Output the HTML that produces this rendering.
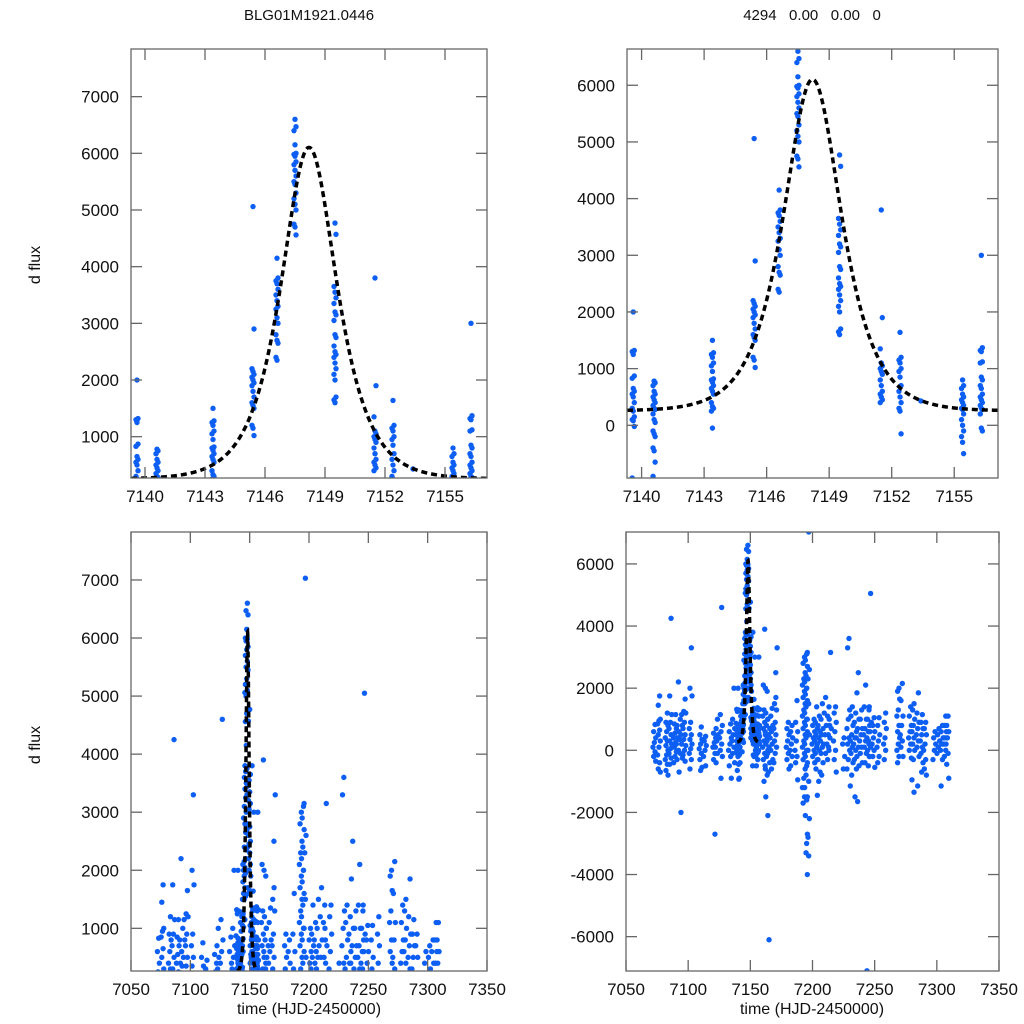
<!DOCTYPE html>
<html><head><meta charset="utf-8"><style>
html,body{margin:0;padding:0;background:#fff;overflow:hidden;width:1024px;height:1024px}
svg{display:block}
text{font-family:"Liberation Sans",sans-serif;fill:#111}
</style></head><body>
<svg id="chart" width="1024" height="1024" viewBox="0 0 1024 1024" xmlns="http://www.w3.org/2000/svg">
<text x="309" y="20" font-size="15" text-anchor="middle">BLG01M1921.0446</text>
<text x="812" y="20" font-size="15" text-anchor="middle" xml:space="preserve">4294   0.00   0.00   0</text>
<text transform="translate(40,265) rotate(-90)" font-size="16" text-anchor="middle">d flux</text>
<text transform="translate(40,745) rotate(-90)" font-size="16" text-anchor="middle">d flux</text>
<text x="309" y="1014" font-size="16" text-anchor="middle">time (HJD-2450000)</text>
<text x="812" y="1014" font-size="16" text-anchor="middle">time (HJD-2450000)</text>
</svg>
<script>
// event-region photometry: [time, values...]
const eventCols = [
 [7139.6, 2000,1320,1300,1250,870,830,650,600,550,500,400,300,250,150,100,80,-20,-930],
 [7140.6, 780,750,700,600,550,500,450,400,350,300,280,200,100,50,-100,-150,-200,-400,-450,-650,-900],
 [7143.4, 1500,1280,1250,1200,1100,1050,950,820,800,760,700,650,600,550,400,330,300,250,-50],
 [7145.4, 5060,2900,2200,2150,2100,2050,2000,1950,1900,1800,1700,1600,1550,1500,1200,1150,1020],
 [7146.6, 4150,3800,3750,3700,3600,3500,3400,3300,3250,3100,3000,2800,2700,2650,2400,2350],
 [7147.5, 6600,6470,6400,6150,6000,5980,5950,5850,5800,5700,5600,5500,5450,5300,5200,5100,5000,4750,4700,4560],
 [7149.5, 4770,4570,3650,3550,3450,3350,3200,3150,3050,2800,2750,2600,2500,2450,2400,2300,2200,2100,2000,1700,1650,1600],
 [7151.5, 3800,1900,1350,1100,1050,1000,950,900,800,700,600,550,500,450,400],
 [7152.4, 1640,1200,1150,1100,1000,950,850,700,600,500,400,300,250,-150],
 [7153.4, 430],
 [7155.4, 800,700,650,550,500,450,400,350,300,280,200,100,0,-100,-200,-300,-500],
 [7156.3, 3000,1370,1320,1300,1120,1100,850,800,700,650,550,500,450,400,350,300,280,200,-50,-100]
];
// full-season photometry outside the event
const seasonCols = [
 [7072.8, 830,600,400,250,100,-50,-200,-350],
 [7076.5, 1750,1450,1000,950,850,650,500,300,100,-150,-400,-600,-700],
 [7082.7, 1200,900,800,600,400,300,150,0,-150,-300,-450,-650,-800],
 [7085.7, 4250,1750,1150,900,700,500,300,200,50,-100,-250,-450],
 [7089.4, 1150,850,700,550,400,250,100,-50,-200,-400],
 [7091.6, 2200,800,600,400,200,0,-300,-700],
 [7094.2, 1150,1000,800,500,350,200,-100,-250,-2000],
 [7097.0, 1650,1250,1200,900,700,500,350,150,0,-150,-350],
 [7102.0, 3300,2000,1750,900,700,500,350,200,50,-100,-300,-600],
 [7110.0, 750,500,350,200,50,-100,-300,-550,-650],
 [7113.5, 450,300,150,0,-200,-500],
 [7121.0, -2700,550,400,250,100,-100,-300],
 [7123.0, 1000,700,500,300,100,-100,-400],
 [7126.4, 4600,1150,800,600,400,200,0,-200,-900],
 [7133.6, 850,600,400,200,0,-200,-500,-900],
 [7136.3, 2000,1000,700,500,300,100,-100,-400],
 [7153.0, 3000,1300,1100,800,600,400,200,0,-200,-500],
 [7161.0, 3900,2100,2000,1300,1100,900,700,500,300,100,-100,-300,-600,-1000],
 [7163.0, 1900,1200,1000,800,600,400,200,0,-200,-500,-800,-1500,-2100],
 [7164.5, -6100,1000,700,500,300,100,-100,-400,-700],
 [7167.0, 1350,1100,800,600,400,200,0,-300,-600],
 [7170.0, 1700,1500,1300,900,700,500,300,100,-100,-400],
 [7171.0, 3300,2500],
 [7180.0, 900,700,500,300,100,-100,-300,-600],
 [7183.0, 800,600,400,200,0,-200,-500],
 [7187.0, 1600,900,600,300,0,-200,-400,-950],
 [7193.0, 3000,2800,2500,2300,2100,1900,1700,1500,1300,1100,900,700,500,300,100,-100,-300,-600,-900,-1200,-1500,-1700],
 [7194.8, 3100,2900,2700,2400,2200,2000,1800,1600,1400,1200,1000,800,600,400,200,0,-200,-400,-800,-1200,-1600,-2100,-2700,-3300],
 [7196.4, 7030,3150,2600,2300,2000,1500,1000,500,0,-500,-1000,-1500,-2200,-2800,-3000,-3400,-4000],
 [7200.7, 1000,800,600,400,200,0,-200,-400],
 [7202.8, 1400,900,700,500,300,100,-100,-300,-600],
 [7205.0, 1100,800,600,400,200,0,-300,-700,-1000,-1450],
 [7207.4, 1500,1000,700,500,300,100,-100,-400,-800],
 [7210.0, 1700,1200,800,500,200,-100],
 [7212.7, 1400,1100,800,500,200,0,-300],
 [7214.0, 3150,1000,700,400,100],
 [7218.0, 1400,1200,900,600,300,0,-300,-700],
 [7224.8, 400,200,-200,-600],
 [7228.8, 3600,3300,1300,1000,700,400,200,0,-300,-600],
 [7231.5, 1400,1100,800,500,300,100,-100,-400,-800,-1150],
 [7234.2, 1200,900,600,400,200,0,-300,-600,-1500],
 [7236.3, 2500,1850,1000,700,400,100,-200,-500,-1650],
 [7239.0, 1300,1000,700,500,300,100,-100,-400],
 [7242.2, 2100,1400,1000,700,500,300,100,-100,-400],
 [7244.9, 1300,1000,800,600,400,200,0,-200,-500,-7100],
 [7246.2, 5050,1400,900,600,300,100,-200],
 [7249.0, 1050,800,600,400,200,0,-200,-550],
 [7253.0, 1050,800,500,300,100,-200,-400],
 [7258.3, 1200,900,700,400,200,0,-300],
 [7269.0, 2000,1900,1650,1300,1100,800,600,400,200,0,-200,-400],
 [7271.7, 2150,1600,1100,800,500,300,100,-200],
 [7278.4, 1400,1100,800,600,400,200,0,-250],
 [7281.1, 1500,1300,1000,800,600,400,200,0,-300,-950,-1350],
 [7284.6, 1850,1200,900,700,500,300,100,-200,-1150],
 [7287.8, 1150,900,700,500,300,100,-100,-400,-700],
 [7290.5, 900,700,500,200,0,-300,-600,-800],
 [7298.0, 600,400,200,0,-300],
 [7301.2, 700,500,300,100,-100],
 [7304.0, 800,600,400,200,0,-300,-1150],
 [7306.6, 1100,800,600,400,200,0,-200],
 [7308.5, 1100,800,600,400,200,-100,-450,-900]
];
// model curve parameters
const modelT0 = [7148.2];
const modelPeak = [5850];
const modelWidth = [1.25];
const modelBase = [255];

const ticksXZoom = [7140,7143,7146,7149,7152,7155];
const ticksXFull = [7050,7100,7150,7200,7250,7300,7350];
const ticksYTL = [1000,2000,3000,4000,5000,6000,7000];
const ticksYTR = [0,1000,2000,3000,4000,5000,6000];
const ticksYBL = [1000,2000,3000,4000,5000,6000,7000];
const ticksYBR = [-6000,-4000,-2000,0,2000,4000,6000];

const NS='http://www.w3.org/2000/svg';
const svg=document.getElementById('chart');
function mk(tag,attrs,parent){const e=document.createElementNS(NS,tag);for(const k in attrs)e.setAttribute(k,attrs[k]);(parent||svg).appendChild(e);return e;}
function model(t){const x=(t-modelT0[0])/modelWidth[0];return modelBase[0]+modelPeak[0]/Math.cosh(x);}

const panels=[
 {id:'tl',px0:131,px1:487,py0:49,py1:478,x0:7139.3,x1:7157.1,y0:271,y1:7841,xt:ticksXZoom,yt:ticksYTL,full:false},
 {id:'tr',px0:627,px1:998,py0:49,py1:478,x0:7139.3,x1:7157.1,y0:-930,y1:6640,xt:ticksXZoom,yt:ticksYTR,full:false},
 {id:'bl',px0:131,px1:487,py0:532,py1:971,x0:7050,x1:7350,y0:265,y1:7826,xt:ticksXFull,yt:ticksYBL,full:true},
 {id:'br',px0:626,px1:999,py0:532,py1:971,x0:7050,x1:7350,y0:-7106,y1:7028,xt:ticksXFull,yt:ticksYBR,full:true}
];
panels.forEach(p=>{
 const sx=t=>p.px0+(t-p.x0)/(p.x1-p.x0)*(p.px1-p.px0);
 const sy=v=>p.py1-(v-p.y0)/(p.y1-p.y0)*(p.py1-p.py0);
 const g=mk('g',{});
 
 
 const cp=mk('clipPath',{id:'clip-'+p.id},g);
 mk('rect',{x:p.px0,y:p.py0,width:p.px1-p.px0,height:p.py1-p.py0},cp);
 const pts=mk('g',{'clip-path':'url(#clip-'+p.id+')'},g);
 
 
 const cols=p.full?seasonCols.concat(eventCols):eventCols;
 cols.forEach(c=>{
  for(let i=1;i<c.length;i++){
   const off=p.full?(((i*3)%5)-2)*0.55:((i%3)-1)*0.05;
   const d=mk('circle',{cx:sx(c[0]+off),cy:sy(c[i]),r:2.7,fill:'#0d5ef2'},pts);
   
   
  }
 });
 let dpath='';
 const ta=p.full?7139.5:p.x0, tb=p.full?7156.5:p.x1;
 for(let k=0;k<=400;k++){const t=ta+(tb-ta)*k/400;dpath+=(k?'L':'M')+sx(t).toFixed(2)+','+sy(model(t)).toFixed(2);}
 const ln=mk('path',{d:dpath,fill:'none',stroke:'#000','stroke-width':3.5,'stroke-dasharray':'6,4','clip-path':'url(#clip-'+p.id+')'},g);
 
 
 const fr=mk('rect',{x:p.px0,y:p.py0,width:p.px1-p.px0,height:p.py1-p.py0,fill:'none',stroke:'#666','stroke-width':1.3},g);
 
 
 p.xt.forEach(t=>{
  const x=sx(t);
  mk('line',{x1:x,y1:p.py1,x2:x,y2:p.py1-11,stroke:'#666','stroke-width':1.3},g);
  mk('line',{x1:x,y1:p.py0,x2:x,y2:p.py0+11,stroke:'#666','stroke-width':1.3},g);
  const tx=mk('text',{x:x,y:p.py1+24,'font-size':17,'text-anchor':'middle'},g);
  tx.textContent=t;
  
  
 });
 p.yt.forEach(v=>{
  const y=sy(v);
  mk('line',{x1:p.px0,y1:y,x2:p.px0+11,y2:y,stroke:'#666','stroke-width':1.3},g);
  mk('line',{x1:p.px1,y1:y,x2:p.px1-11,y2:y,stroke:'#666','stroke-width':1.3},g);
  const tx=mk('text',{x:p.px0-12,y:y+6,'font-size':17,'text-anchor':'end'},g);
  tx.textContent=v;
  
  
 });
});
</script>
</body></html>
